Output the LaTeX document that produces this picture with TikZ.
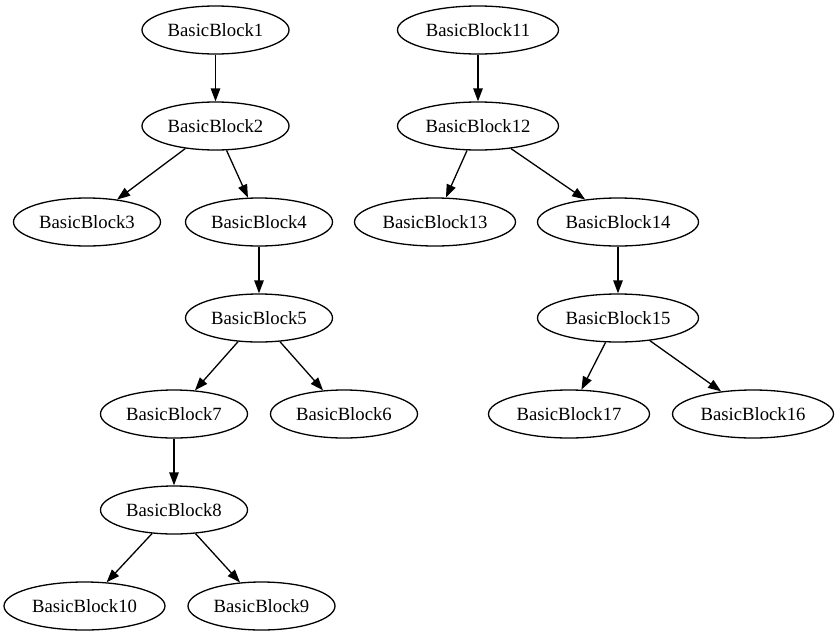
\documentclass[tikz,border=0pt]{standalone}
\usepackage{fontspec}
\setmainfont{Liberation Serif}
\usetikzlibrary{shapes.geometric,arrows.meta}
\begin{document}
\begin{tikzpicture}[x=1pt, y=-1pt,
		bb/.style={ellipse, draw, line width=1.3pt, minimum width=147pt, minimum height=48pt, inner sep=0pt, font=\fontsize{18.7}{22}\selectfont},
		bbw/.style={bb, minimum width=161pt},
		edge/.style={line width=1.3pt, -{Triangle[length=13pt,width=9.5pt]}}]
		\useasboundingbox (0,0) rectangle (838,635);
		%linker baum
		\node[bb] (b1) at (215.5,30) {BasicBlock1};
		\node[bb] (b2) at (215.5,126) {BasicBlock2};
		\node[bb] (b3) at (87,222) {BasicBlock3};
		\node[bb] (b4) at (259,222) {BasicBlock4};
		\node[bb] (b5) at (259,318) {BasicBlock5};
		\node[bb] (b7) at (174,414) {BasicBlock7};
		\node[bb] (b6) at (344,414) {BasicBlock6};
		\node[bb] (b8) at (174,510) {BasicBlock8};
		\node[bbw] (b10) at (84.5,606) {BasicBlock10};
		\node[bb] (b9) at (261.5,606) {BasicBlock9};
		%
		\draw[edge] (b1) -- (b2);
		\draw[edge] (b2) -- (b3);
		\draw[edge] (b2) -- (b4);
		\draw[edge] (b4) -- (b5);
		\draw[edge] (b5) -- (b7);
		\draw[edge] (b5) -- (b6);
		\draw[edge] (b7) -- (b8);
		\draw[edge] (b8) -- (b10);
		\draw[edge] (b8) -- (b9);
		%rechter baum
		\node[bbw] (b11) at (478,30) {BasicBlock11};
		\node[bbw] (b12) at (478,126) {BasicBlock12};
		\node[bbw] (b13) at (435,222) {BasicBlock13};
		\node[bbw] (b14) at (618,222) {BasicBlock14};
		\node[bbw] (b15) at (618,318) {BasicBlock15};
		\node[bbw] (b17) at (569,414) {BasicBlock17};
		\node[bbw] (b16) at (753,414) {BasicBlock16};
		%
		\draw[edge] (b11) -- (b12);
		\draw[edge] (b12) -- (b13);
		\draw[edge] (b12) -- (b14);
		\draw[edge] (b14) -- (b15);
		\draw[edge] (b15) -- (b17);
		\draw[edge] (b15) -- (b16);
	\end{tikzpicture}
\end{document}
